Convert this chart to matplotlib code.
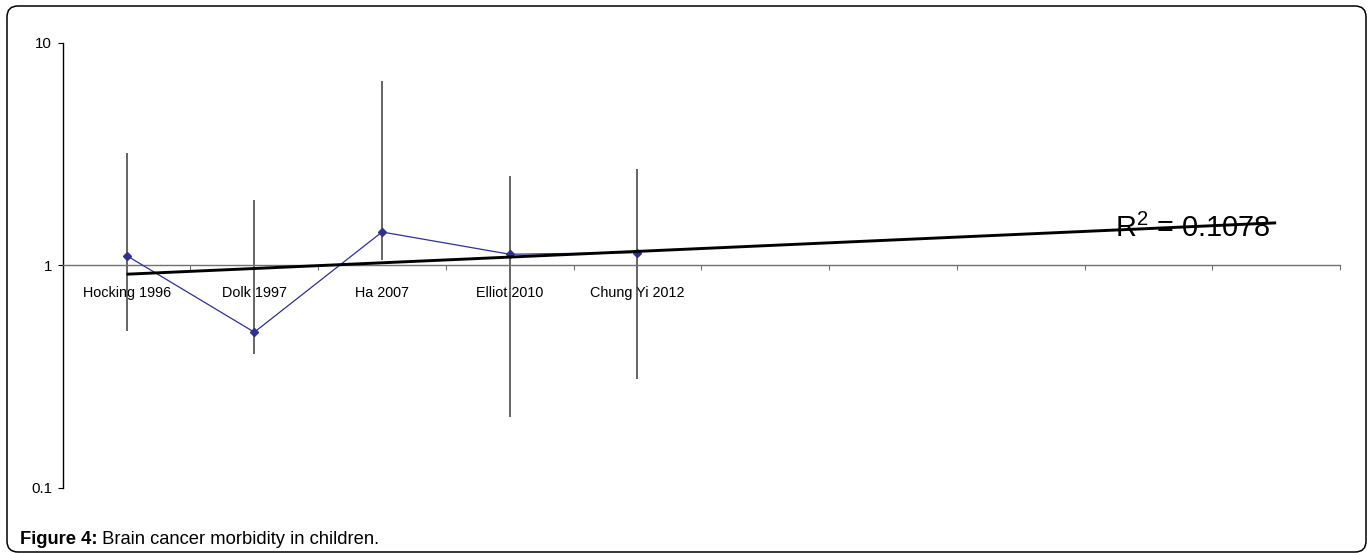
import matplotlib
matplotlib.use("Agg")
import matplotlib.pyplot as plt
from matplotlib.patches import FancyBboxPatch
from matplotlib.ticker import FixedLocator, NullLocator, FixedFormatter

# ---- data ----
studies = ["Hocking 1996", "Dolk 1997", "Ha 2007", "Elliot 2010", "Chung Yi 2012"]
estimate = [1.105, 0.50, 1.41, 1.12, 1.14]
ci_low = [0.507, 0.397, 1.05, 0.208, 0.307]
ci_high = [3.18, 1.96, 6.71, 2.51, 2.72]
n_slots = 10
trend_x = [1, 10]
trend_y = [0.911, 1.55]
r2_text = "0.1078"
y_ticks = [0.1, 1, 10]
y_labels = ["0.1", "1", "10"]
caption_bold = "Figure 4:"
caption_rest = " Brain cancer morbidity in children."

sans = ["Liberation Sans", "DejaVu Sans"]
plt.rcParams["mathtext.fontset"] = "custom"
plt.rcParams["mathtext.rm"] = "Liberation Sans"
plt.rcParams["mathtext.it"] = "Liberation Sans"
plt.rcParams["mathtext.bf"] = "Liberation Sans:bold"

W, H = 1367, 553
fig = plt.figure(figsize=(W / 100, H / 100), dpi=100)
ax = fig.add_axes([62.7 / W, 1 - 487.7 / H, (1340 - 62.7) / W, (487.7 - 42.7) / H])
ax.set_yscale("log")
ax.set_ylim(0.1, 10)
ax.set_xlim(0.5, n_slots + 0.5)

xs = list(range(1, len(studies) + 1))

ax.vlines(xs, ci_low, ci_high, color="#3a3a3a", lw=1.1, zorder=2)
ax.plot(xs, estimate, color="#2e3192", lw=0.9, marker="D", ms=4.2,
        markerfacecolor="#2e3192", markeredgecolor="#2e3192", zorder=3)
ax.plot(trend_x, trend_y, color="black", lw=2.1, zorder=4, solid_capstyle="butt")

# R^2 label
ax.text(8.74, 1.336, r"R$^2$ = " + r2_text, fontsize=20.8, family=sans,
        ha="left", va="baseline", color="black", zorder=5)

# spines
for s in ["top", "right"]:
    ax.spines[s].set_visible(False)
ax.spines["bottom"].set_position(("data", 1))
ax.spines["bottom"].set_color("#707070")
ax.spines["bottom"].set_linewidth(1.0)
ax.spines["left"].set_color("black")
ax.spines["left"].set_linewidth(1.0)

# y ticks
ax.yaxis.set_major_locator(FixedLocator(y_ticks))
ax.yaxis.set_major_formatter(FixedFormatter(y_labels))
ax.yaxis.set_minor_locator(NullLocator())
ax.tick_params(axis="y", which="major", direction="out", length=3.6, width=0.8,
               pad=4, labelsize=10.8, color="black")
for lab in ax.get_yticklabels():
    lab.set_family(sans)

# x ticks: boundaries (major, no labels) and category centres (minor, labels)
ax.xaxis.set_major_locator(FixedLocator([i + 0.5 for i in range(1, n_slots + 1)]))
ax.xaxis.set_major_formatter(FixedFormatter([""] * n_slots))
ax.xaxis.set_minor_locator(FixedLocator(xs))
ax.xaxis.set_minor_formatter(FixedFormatter(studies))
ax.tick_params(axis="x", which="major", direction="out", length=3.6, width=0.8,
               color="#707070")
ax.tick_params(axis="x", which="minor", length=0, pad=15, labelsize=10.4)
for lab in ax.get_xticklabels(minor=True):
    lab.set_family(sans)

# border
border = FancyBboxPatch((7 / W, 1 / H), (1366 - 7) / W, (552 - 6) / H,
                        boxstyle="round,pad=0,rounding_size=0.008",
                        transform=fig.transFigure, fill=False, ec="black", lw=1.1,
                        mutation_aspect=W / H, clip_on=False)
fig.patches.append(border)

# caption
t1 = fig.text(19.5 / W, 1 - 544 / H, caption_bold, fontsize=13.2, weight="bold",
              family=sans, ha="left", va="baseline")
fig.canvas.draw()
bb = t1.get_window_extent()
fig.text(bb.x1 / W, 1 - 544 / H, caption_rest, fontsize=13.2,
         family=sans, ha="left", va="baseline")

fig.savefig("out.png", dpi=100)
